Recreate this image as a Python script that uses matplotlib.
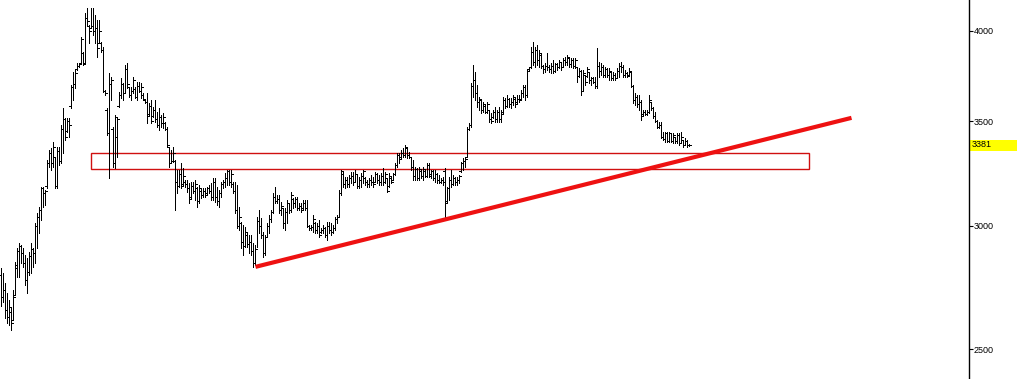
import matplotlib
matplotlib.use("Agg")
from matplotlib import pyplot as plt
from matplotlib.patches import Rectangle
from matplotlib.ticker import FixedLocator, NullLocator, FormatStrFormatter
import numpy as np

# daily OHLC bars (price), oldest first
highs = [
    2819, 2798, 2757, 2716, 2688, 2657, 2728, 2844, 2903, 2925, 2916, 2903, 2873, 2861, 2885,
    2925, 2903, 3013, 3057, 3085, 3177, 3177, 3163, 3306, 3355, 3365, 3395, 3320, 3370, 3370,
    3481, 3570, 3518, 3518, 3518, 3693, 3765, 3776, 3815, 3815, 3964, 3878, 4108, 4138, 4036,
    4138, 4138, 4096, 4066, 4066, 3935, 3906, 3666, 3570, 3759, 3737, 3471, 3533, 3518, 3655,
    3732, 3704, 3804, 3815, 3682, 3682, 3737, 3682, 3710, 3710, 3704, 3650, 3612, 3650, 3596,
    3612, 3575, 3612, 3549, 3570, 3533, 3544, 3497, 3471, 3370, 3355, 3370, 3306, 3258, 3258,
    3292, 3268, 3210, 3210, 3196, 3200, 3200, 3210, 3177, 3186, 3172, 3172, 3172, 3177, 3186,
    3196, 3220, 3220, 3177, 3163, 3200, 3210, 3244, 3258, 3258, 3258, 3200, 3200, 3186, 3085,
    3017, 3004, 2995, 2968, 2960, 2960, 2925, 2916, 3039, 3071, 3035, 2973, 2960, 3013, 3048,
    3071, 3149, 3177, 3140, 3140, 3107, 3080, 3080, 3116, 3103, 3154, 3126, 3130, 3130, 3103,
    3103, 3116, 3116, 3116, 3004, 3004, 3048, 3017, 3013, 3026, 2991, 3004, 2995, 3017, 3017,
    3013, 3004, 3039, 3048, 3163, 3258, 3248, 3224, 3224, 3234, 3248, 3248, 3258, 3234, 3224,
    3244, 3258, 3224, 3210, 3220, 3234, 3224, 3248, 3244, 3234, 3244, 3268, 3248, 3220, 3244,
    3224, 3244, 3292, 3340, 3340, 3355, 3365, 3380, 3365, 3345, 3320, 3306, 3272, 3268, 3272,
    3258, 3272, 3258, 3292, 3292, 3258, 3258, 3258, 3244, 3234, 3220, 3224, 3268, 3177, 3224,
    3258, 3234, 3224, 3224, 3234, 3296, 3316, 3320, 3471, 3492, 3704, 3804, 3765, 3693, 3628,
    3612, 3602, 3586, 3602, 3559, 3544, 3559, 3575, 3559, 3575, 3559, 3628, 3623, 3639, 3623,
    3623, 3639, 3628, 3639, 3639, 3666, 3693, 3693, 3776, 3793, 3906, 3935, 3906, 3918, 3889,
    3872, 3804, 3815, 3872, 3804, 3815, 3832, 3815, 3815, 3832, 3821, 3843, 3849, 3861, 3843,
    3843, 3843, 3843, 3793, 3787, 3776, 3776, 3748, 3793, 3765, 3737, 3737, 3737, 3900, 3821,
    3815, 3804, 3793, 3787, 3787, 3765, 3765, 3759, 3787, 3815, 3821, 3804, 3776, 3765, 3787,
    3765, 3693, 3650, 3639, 3639, 3612, 3559, 3559, 3559, 3639, 3602, 3575, 3549, 3507, 3497,
    3497, 3446, 3446, 3446, 3446, 3441, 3441, 3420, 3441, 3441, 3446, 3405, 3415, 3405, 3385,
]
lows = [
    2665, 2680, 2618, 2599, 2591, 2572, 2610, 2708, 2782, 2782, 2840, 2823, 2749, 2716, 2790,
    2798, 2823, 2840, 2903, 2968, 3026, 3085, 3094, 3172, 3272, 3258, 3272, 3172, 3172, 3282,
    3292, 3340, 3405, 3446, 3420, 3570, 3612, 3677, 3776, 3793, 3815, 3804, 3815, 4036, 3929,
    4018, 3976, 3929, 3849, 3929, 3878, 3655, 3639, 3430, 3220, 3612, 3272, 3268, 3320, 3575,
    3623, 3612, 3650, 3677, 3628, 3612, 3650, 3623, 3612, 3655, 3623, 3612, 3596, 3492, 3533,
    3492, 3523, 3497, 3471, 3456, 3471, 3466, 3456, 3370, 3272, 3292, 3296, 3071, 3149, 3177,
    3172, 3186, 3177, 3154, 3103, 3126, 3149, 3116, 3085, 3103, 3126, 3130, 3130, 3140, 3149,
    3116, 3116, 3107, 3094, 3085, 3130, 3172, 3177, 3186, 3186, 3177, 3149, 3057, 2991, 2981,
    2903, 2873, 2907, 2907, 2881, 2873, 2823, 2831, 2907, 2968, 2947, 2865, 2873, 2951, 2968,
    3017, 3057, 3103, 3103, 3057, 3048, 2991, 2981, 3013, 3057, 3062, 3080, 3085, 3071, 3071,
    3062, 3071, 3071, 2995, 2981, 2981, 2973, 2968, 2968, 2951, 2968, 2968, 2951, 2938, 2968,
    2960, 2968, 2981, 3013, 3039, 3140, 3177, 3172, 3177, 3177, 3196, 3186, 3200, 3172, 3172,
    3177, 3196, 3186, 3177, 3177, 3186, 3177, 3200, 3196, 3186, 3186, 3186, 3196, 3154, 3177,
    3196, 3210, 3234, 3272, 3292, 3316, 3320, 3320, 3316, 3316, 3258, 3210, 3210, 3210, 3210,
    3220, 3210, 3224, 3224, 3224, 3220, 3210, 3200, 3196, 3196, 3196, 3186, 3039, 3107, 3116,
    3177, 3186, 3186, 3186, 3196, 3248, 3258, 3272, 3320, 3456, 3471, 3628, 3612, 3575, 3559,
    3544, 3549, 3544, 3544, 3497, 3492, 3518, 3497, 3497, 3497, 3497, 3544, 3570, 3575, 3575,
    3570, 3586, 3575, 3596, 3602, 3612, 3628, 3612, 3628, 3776, 3787, 3804, 3793, 3804, 3793,
    3787, 3759, 3765, 3776, 3765, 3759, 3759, 3765, 3776, 3787, 3776, 3793, 3804, 3804, 3793,
    3793, 3787, 3787, 3710, 3737, 3639, 3666, 3693, 3737, 3704, 3693, 3704, 3677, 3677, 3737,
    3748, 3737, 3737, 3737, 3721, 3721, 3721, 3721, 3732, 3737, 3765, 3737, 3737, 3737, 3748,
    3682, 3596, 3586, 3575, 3559, 3507, 3533, 3533, 3533, 3544, 3559, 3518, 3497, 3466, 3466,
    3415, 3405, 3395, 3395, 3395, 3395, 3390, 3390, 3390, 3380, 3390, 3370, 3380, 3370, 3375,
]
opens = [
    2790, 2700, 2730, 2650, 2620, 2640, 2610, 2710, 2820, 2890, 2910, 2880, 2840, 2770, 2800,
    2870, 2900, 2880, 3000, 3040, 3070, 3170, 3150, 3180, 3290, 3340, 3290, 3320, 3180, 3350,
    3300, 3460, 3510, 3450, 3500, 3580, 3680, 3700, 3780, 3800, 3815, 3870, 3815, 4080, 4030,
    4020, 4030, 4000, 4020, 3930, 3930, 3890, 3660, 3560, 3440, 3700, 3460, 3290, 3420, 3580,
    3640, 3700, 3650, 3780, 3680, 3640, 3660, 3670, 3630, 3690, 3660, 3640, 3610, 3600, 3540,
    3580, 3530, 3560, 3510, 3480, 3520, 3490, 3490, 3460, 3370, 3290, 3300, 3300, 3200, 3180,
    3240, 3190, 3200, 3190, 3170, 3130, 3180, 3160, 3170, 3110, 3160, 3140, 3160, 3150, 3170,
    3160, 3130, 3200, 3130, 3110, 3150, 3190, 3200, 3220, 3250, 3200, 3190, 3160, 3070, 3000,
    3010, 2930, 2910, 2960, 2920, 2930, 2890, 2840, 2900, 3020, 3000, 2960, 2880, 2950, 3000,
    3030, 3060, 3130, 3110, 3120, 3070, 3080, 3010, 3060, 3100, 3070, 3120, 3100, 3120, 3080,
    3090, 3080, 3100, 3080, 3000, 2990, 2995, 3010, 2980, 3000, 2970, 2980, 2990, 2960, 3000,
    2980, 2970, 2990, 3030, 3040, 3150, 3240, 3190, 3210, 3190, 3220, 3230, 3200, 3240, 3180,
    3210, 3230, 3220, 3200, 3190, 3210, 3200, 3200, 3240, 3210, 3200, 3230, 3200, 3220, 3180,
    3220, 3210, 3240, 3280, 3330, 3320, 3340, 3330, 3365, 3330, 3320, 3270, 3230, 3260, 3220,
    3250, 3230, 3250, 3230, 3280, 3240, 3250, 3220, 3240, 3210, 3200, 3210, 3250, 3110, 3170,
    3210, 3190, 3220, 3200, 3210, 3250, 3290, 3300, 3320, 3460, 3480, 3690, 3720, 3650, 3600,
    3610, 3560, 3580, 3550, 3559, 3510, 3520, 3550, 3510, 3550, 3510, 3550, 3610, 3580, 3620,
    3590, 3600, 3620, 3600, 3620, 3620, 3650, 3680, 3640, 3780, 3790, 3880, 3820, 3890, 3830,
    3860, 3800, 3780, 3800, 3790, 3780, 3800, 3770, 3810, 3790, 3820, 3790, 3830, 3820, 3843,
    3810, 3830, 3800, 3790, 3740, 3770, 3660, 3748, 3740, 3765, 3720, 3730, 3710, 3690, 3800,
    3770, 3790, 3750, 3780, 3750, 3765, 3730, 3750, 3732, 3770, 3800, 3790, 3750, 3760, 3748,
    3765, 3690, 3610, 3630, 3590, 3600, 3540, 3550, 3540, 3550, 3600, 3570, 3530, 3500, 3470,
    3480, 3420, 3410, 3440, 3400, 3440, 3400, 3420, 3400, 3430, 3390, 3405, 3380, 3400, 3380,
]
closes = [
    2700, 2730, 2650, 2620, 2660, 2600, 2700, 2830, 2890, 2910, 2880, 2840, 2770, 2800, 2870,
    2900, 2880, 3000, 3040, 3070, 3170, 3150, 3160, 3290, 3340, 3290, 3370, 3180, 3350, 3300,
    3460, 3510, 3420, 3500, 3480, 3680, 3700, 3760, 3800, 3810, 3950, 3810, 4080, 4060, 4000,
    4030, 4000, 4020, 3900, 4000, 3890, 3660, 3650, 3440, 3700, 3720, 3290, 3520, 3510, 3640,
    3700, 3650, 3780, 3700, 3640, 3660, 3720, 3630, 3690, 3660, 3680, 3620, 3600, 3530, 3580,
    3500, 3560, 3510, 3480, 3520, 3490, 3520, 3460, 3380, 3290, 3300, 3340, 3200, 3180, 3240,
    3180, 3230, 3190, 3170, 3120, 3180, 3160, 3190, 3110, 3170, 3140, 3160, 3140, 3170, 3160,
    3130, 3200, 3130, 3110, 3150, 3190, 3200, 3220, 3250, 3200, 3240, 3160, 3070, 3000, 3040,
    2930, 2910, 2970, 2920, 2930, 2890, 2840, 2900, 3020, 3000, 2960, 2880, 2950, 3000, 3030,
    3060, 3130, 3110, 3120, 3070, 3090, 3010, 3060, 3100, 3070, 3140, 3100, 3120, 3080, 3090,
    3070, 3100, 3080, 3000, 2990, 2995, 3030, 2980, 3000, 2960, 2980, 2990, 2960, 3000, 2980,
    2970, 2990, 3030, 3040, 3150, 3250, 3190, 3210, 3190, 3220, 3230, 3200, 3240, 3180, 3210,
    3230, 3250, 3200, 3190, 3210, 3200, 3190, 3240, 3210, 3200, 3230, 3200, 3240, 3160, 3230,
    3200, 3240, 3280, 3330, 3310, 3340, 3330, 3370, 3330, 3320, 3270, 3230, 3260, 3220, 3260,
    3230, 3260, 3230, 3280, 3230, 3250, 3220, 3240, 3210, 3200, 3210, 3200, 3100, 3170, 3210,
    3190, 3220, 3200, 3210, 3230, 3290, 3300, 3310, 3460, 3480, 3690, 3720, 3650, 3600, 3620,
    3560, 3590, 3550, 3590, 3510, 3500, 3550, 3510, 3550, 3510, 3540, 3610, 3580, 3620, 3590,
    3600, 3630, 3590, 3620, 3610, 3650, 3680, 3640, 3770, 3790, 3880, 3820, 3890, 3830, 3870,
    3800, 3780, 3800, 3790, 3780, 3800, 3770, 3810, 3790, 3820, 3790, 3830, 3820, 3850, 3810,
    3830, 3800, 3830, 3740, 3770, 3660, 3760, 3710, 3780, 3720, 3730, 3710, 3690, 3800, 3770,
    3790, 3750, 3780, 3750, 3770, 3730, 3750, 3730, 3770, 3800, 3790, 3750, 3760, 3740, 3770,
    3690, 3610, 3630, 3590, 3600, 3530, 3550, 3540, 3550, 3610, 3570, 3530, 3500, 3470, 3480,
    3420, 3410, 3440, 3400, 3440, 3400, 3430, 3400, 3430, 3390, 3420, 3380, 3400, 3380, 3381,
]

# support zone and rising trendline drawn on the chart
zone_start, zone_end = 45, 404
zone_low, zone_high = 3262, 3340
trend_x = [127, 425]
trend_y = [2823, 3518]
last_price = 3381
y_ticks = [2500, 3000, 3500, 4000]

x = np.arange(len(highs))

fig = plt.figure(figsize=(10.17, 3.79), dpi=100)
ax = fig.add_axes([0, 0, 969 / 1017, 1])

# crisp 1px OHLC bars, ticks reach over to the neighbouring bar
lw = 0.5
ax.vlines(x, lows, highs, color="black", linewidth=lw, antialiased=False)
ax.hlines(opens, x - 1.0, x, color="black", linewidth=lw, antialiased=False)
ax.hlines(closes, x, x + 1.0, color="black", linewidth=lw, antialiased=False)

ax.add_patch(Rectangle((zone_start, zone_low), zone_end - zone_start, zone_high - zone_low,
                       fill=False, edgecolor="#d01010", linewidth=1.0))
ax.plot(trend_x, trend_y, color="#ee1111", linewidth=3.0, solid_capstyle="butt")

ax.set_yscale("log")
ax.set_ylim(2392, 4187)
ax.set_xlim(-0.75, 483.75)

ax.yaxis.set_major_locator(FixedLocator(y_ticks))
ax.yaxis.set_minor_locator(NullLocator())
ax.yaxis.set_major_formatter(FormatStrFormatter("%d"))
ax.yaxis.tick_right()
ax.tick_params(axis="y", length=3, width=0.8, pad=0.5, labelsize=6.5, colors="black")
for t in ax.get_yticklabels():
    t.set_fontfamily("Liberation Sans")
ax.set_xticks([])
for side in ["left", "top", "bottom"]:
    ax.spines[side].set_visible(False)
ax.spines["right"].set_linewidth(1.0)

# yellow last-price marker on the axis
trans = ax.get_yaxis_transform()
ax.add_patch(Rectangle((1.0, 3350), 48 / 969, 55, transform=trans,
                       facecolor="#ffff00", edgecolor="none", clip_on=False))
ax.text(1.0 + 3 / 969, last_price, str(last_price), transform=trans, fontsize=6.5,
        family="Liberation Sans", va="center", ha="left", clip_on=False)

fig.savefig("out.png", dpi=100)
